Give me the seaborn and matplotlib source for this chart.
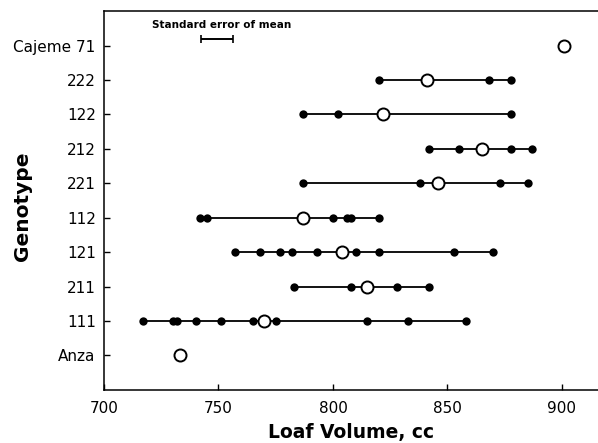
import matplotlib
matplotlib.use("Agg")
import matplotlib.pyplot as plt
import seaborn as sns
import pandas as pd

# Genotypes from bottom (y=0) to top
genotypes = ["Anza", "111", "211", "121", "112", "221", "212", "122", "222", "Cajeme 71"]

# Individual line values (filled dots)
vals_111 = [717, 730, 732, 740, 751, 765, 775, 815, 833, 858]
vals_211 = [783, 808, 828, 842]
vals_121 = [757, 768, 777, 782, 793, 810, 820, 853, 870]
vals_112 = [742, 745, 800, 806, 808, 820]
vals_221 = [787, 838, 873, 885]
vals_212 = [842, 855, 878, 887]
vals_122 = [787, 802, 878]
vals_222 = [820, 868, 878]

# Genotype means (open circles)
means = [733, 770, 815, 804, 787, 846, 865, 822, 841, 901]

# Standard error of mean reference bar
se_center = 749.4
se_half = 6.9

individual = {
    "111": vals_111, "211": vals_211, "121": vals_121, "112": vals_112,
    "221": vals_221, "212": vals_212, "122": vals_122, "222": vals_222,
}

rows = []
for g, vs in individual.items():
    for v in vs:
        rows.append({"genotype": g, "pos": genotypes.index(g), "volume": v})
df_ind = pd.DataFrame(rows)
df_mean = pd.DataFrame({"genotype": genotypes, "pos": range(len(genotypes)), "volume": means})

sns.set_style("ticks")
plt.rcParams["font.family"] = ["DejaVu Sans"]
plt.rcParams["text.color"] = "black"
plt.rcParams["axes.labelcolor"] = "black"
plt.rcParams["xtick.color"] = "black"
plt.rcParams["ytick.color"] = "black"

fig = plt.figure(figsize=(5.98, 4.43), dpi=100)
ax = fig.add_axes([0.174, 0.12, 0.826, 0.855])

# horizontal ranges per genotype
for g, vs in individual.items():
    y = genotypes.index(g)
    allv = vs + [means[y]]
    ax.plot([min(allv), max(allv)], [y, y], color="black", lw=1.3, zorder=1)

sns.scatterplot(data=df_ind, x="volume", y="pos", ax=ax, color="black",
                s=36, edgecolor="black", linewidth=0, zorder=2, legend=False)
sns.scatterplot(data=df_mean, x="volume", y="pos", ax=ax, color="white",
                s=75, edgecolor="black", linewidth=1.4, zorder=3, legend=False)

# SE reference bar
ax.errorbar([se_center], [9.18], xerr=[se_half], fmt="none", ecolor="black",
            elinewidth=1.4, capsize=3, capthick=1.2)
ax.text(751.4, 9.6, "Standard error of mean", ha="center", va="center",
        fontsize=7.5, fontweight="bold", color="black")

ax.set_xlim(700, 915.8)
ax.set_ylim(-1, 10)
ax.set_xticks([700, 750, 800, 850, 900])
ax.set_yticks(range(len(genotypes)))
ax.set_yticklabels(genotypes)
ax.tick_params(direction="in", length=4, width=1, labelsize=11,
               colors="black", labelcolor="black")
ax.tick_params(axis="x", pad=8)
ax.tick_params(axis="y", pad=6)
ax.spines["right"].set_visible(False)
for s in ["left", "bottom", "top"]:
    ax.spines[s].set_linewidth(1.1)
    ax.spines[s].set_color("black")

ax.set_xlabel("Loaf Volume, cc", fontsize=13.5, fontweight="bold", labelpad=5, color="black")
ax.set_ylabel("Genotype", fontsize=14.5, fontweight="bold", color="black")
ax.yaxis.set_label_coords(-0.146, 0.486)

fig.savefig("out.png", dpi=100)
